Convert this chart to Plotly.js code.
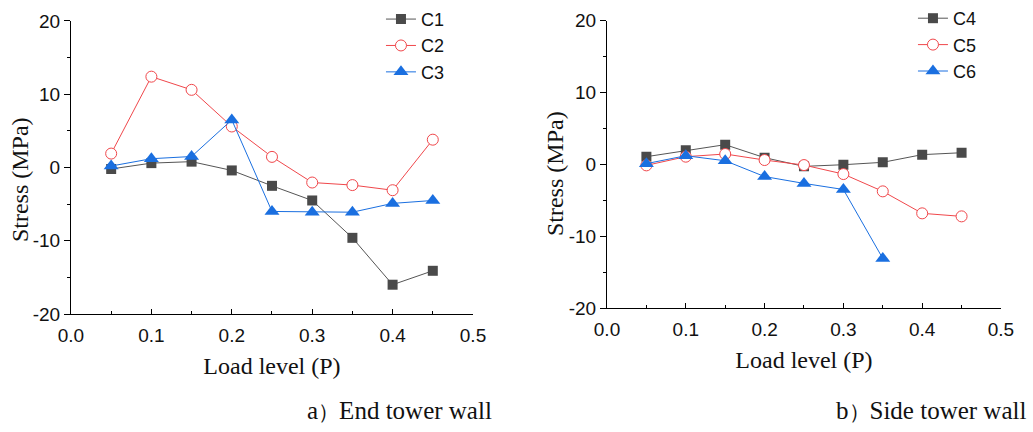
<!DOCTYPE html>
<html>
<head>
<meta charset="utf-8">
<script src="https://cdn.plot.ly/plotly-3.0.1.min.js"></script>
<style>html,body{margin:0;padding:0;background:#fff;}#chart{width:1033px;height:432px;}</style>
</head>
<body>
<div id="chart"></div>
<script>
// Load levels
const loadLevels = [0.05, 0.10, 0.15, 0.20, 0.25, 0.30, 0.35, 0.40, 0.45];
const loadLevelsC6 = [0.05, 0.10, 0.15, 0.20, 0.25, 0.30, 0.35];

// a) End tower wall
const c1 = [-0.2, 0.6, 0.8, -0.4, -2.5, -4.5, -9.6, -16.0, -14.1];
const c2 = [1.9, 12.4, 10.6, 5.6, 1.45, -2.05, -2.4, -3.1, 3.8];
const c3 = [0.2, 1.2, 1.5, 6.5, -6.0, -6.1, -6.1, -4.9, -4.5];

// b) Side tower wall
const c4 = [1.07, 1.95, 2.74, 0.93, -0.28, -0.05, 0.28, 1.35, 1.62];
const c5 = [-0.14, 1.07, 1.44, 0.6, -0.1, -1.35, -3.76, -6.82, -7.24];
const c6 = [0.1, 1.2, 0.5, -1.7, -2.65, -3.5, -13.1];

const xTicks = [0, 0.1, 0.2, 0.3, 0.4, 0.5];
const xTickText = ['0.0', '0.1', '0.2', '0.3', '0.4', '0.5'];
const yTicks = [-20, -10, 0, 10, 20];
const yTickText = ['-20', '-10', '0', '10', '20'];

const seriesLabels = ['C1', 'C2', 'C3', 'C4', 'C5', 'C6'];
const captionLetters = ['a', 'b'];
const captionTexts = ['End tower wall', 'Side tower wall'];
const xTitle = 'Load level (P)';
const yTitle = 'Stress (MPa)';

const GRAY = '#4a4a4a', RED = '#f0474b', BLUE = '#1a6fe0';
const tickFont = {family: 'Liberation Sans, Arial, sans-serif', size: 19, color: '#111'};
const titleFont = {family: 'Liberation Serif, Times New Roman, serif', size: 24, color: '#111'};
const legendFont = {family: 'Liberation Sans, Arial, sans-serif', size: 18, color: '#111'};

function sq(x, y, name, xa, ya, leg) {
  return {x: x, y: y, name: name, type: 'scatter', mode: 'lines+markers', xaxis: xa, yaxis: ya, legend: leg,
    line: {color: '#555555', width: 1}, marker: {symbol: 'square', size: 10, color: GRAY, line: {width: 0}}};
}
function circ(x, y, name, xa, ya, leg) {
  return {x: x, y: y, name: name, type: 'scatter', mode: 'lines+markers', xaxis: xa, yaxis: ya, legend: leg,
    line: {color: RED, width: 1}, marker: {symbol: 'circle', size: 11, color: '#ffffff', line: {width: 1, color: RED}}};
}
function tri(x, y, name, xa, ya, leg) {
  return {x: x, y: y, name: name, type: 'scatter', mode: 'lines+markers', xaxis: xa, yaxis: ya, legend: leg,
    line: {color: BLUE, width: 1}, marker: {symbol: 'triangle-up', size: 13, color: BLUE, line: {width: 0}}};
}

const data = [
  sq(loadLevels, c1, seriesLabels[0], 'x', 'y', 'legend'),
  circ(loadLevels, c2, seriesLabels[1], 'x', 'y', 'legend'),
  tri(loadLevels, c3, seriesLabels[2], 'x', 'y', 'legend'),
  sq(loadLevels, c4, seriesLabels[3], 'x2', 'y2', 'legend2'),
  circ(loadLevels, c5, seriesLabels[4], 'x2', 'y2', 'legend2'),
  tri(loadLevelsC6, c6, seriesLabels[5], 'x2', 'y2', 'legend2')
];

function xaxisDef(domain, anchor) {
  return {domain: domain, anchor: anchor, range: [0, 0.5], tickvals: xTicks, ticktext: xTickText,
    showline: true, linecolor: '#000', linewidth: 1, mirror: false, showgrid: false, zeroline: false,
    ticks: 'inside', ticklen: 5, tickcolor: '#000', tickwidth: 1, tickfont: tickFont, ticklabelstandoff: 4,
    minor: {dtick: 0.05, tick0: 0, ticks: 'inside', ticklen: 3, tickcolor: '#000', showgrid: false},
    title: {text: xTitle, font: titleFont, standoff: 12}, automargin: false, fixedrange: true};
}
function yaxisDef(domain, anchor) {
  return {domain: domain, anchor: anchor, range: [-20, 20], tickvals: yTicks, ticktext: yTickText,
    showline: true, linecolor: '#000', linewidth: 1, mirror: false, showgrid: false, zeroline: false,
    ticks: 'outside', ticklen: 6, tickcolor: '#000', tickwidth: 1, tickfont: tickFont,
    minor: {dtick: 5, tick0: 0, ticks: 'outside', ticklen: 3, tickcolor: '#000', showgrid: false},
    automargin: false, fixedrange: true};
}

function caption(i) {
  return captionLetters[i] + '<span style="font-size:21px">\uFF09</span>' + captionTexts[i];
}

const layout = {
  width: 1033, height: 432,
  margin: {l: 0, r: 0, t: 0, b: 0},
  paper_bgcolor: '#ffffff', plot_bgcolor: '#ffffff',
  showlegend: true,
  xaxis: xaxisDef([0.0687, 0.4579], 'y'),
  yaxis: yaxisDef([0.2731, 0.9514], 'x'),
  xaxis2: xaxisDef([0.5876, 0.9690], 'y2'),
  yaxis2: yaxisDef([0.2870, 0.9521], 'x2'),
  legend: {x: 0.3688, y: 0.998, xanchor: 'left', yanchor: 'top', bgcolor: 'rgba(0,0,0,0)',
    font: legendFont, tracegroupgap: 0, itemwidth: 30},
  legend2: {x: 0.8838, y: 1.0, xanchor: 'left', yanchor: 'top', bgcolor: 'rgba(0,0,0,0)',
    font: legendFont, tracegroupgap: 0, itemwidth: 30},
  annotations: [
    {text: yTitle, xref: 'paper', yref: 'paper', x: 0.0194, y: 0.5833, xanchor: 'center', yanchor: 'middle',
      textangle: -90, showarrow: false, font: titleFont},
    {text: yTitle, xref: 'paper', yref: 'paper', x: 0.5373, y: 0.5972, xanchor: 'center', yanchor: 'middle',
      textangle: -90, showarrow: false, font: titleFont},
    {text: caption(0), xref: 'paper', yref: 'paper', x: 0.3863, y: 0.049, xanchor: 'center', yanchor: 'middle',
      showarrow: false, font: {family: 'Liberation Serif, Times New Roman, serif', size: 25, color: '#111'}},
    {text: caption(1), xref: 'paper', yref: 'paper', x: 0.9017, y: 0.049, xanchor: 'center', yanchor: 'middle',
      showarrow: false, font: {family: 'Liberation Serif, Times New Roman, serif', size: 25, color: '#111'}}
  ]
};

Plotly.newPlot('chart', data, layout, {displayModeBar: false, staticPlot: true});
</script>
</body>
</html>
